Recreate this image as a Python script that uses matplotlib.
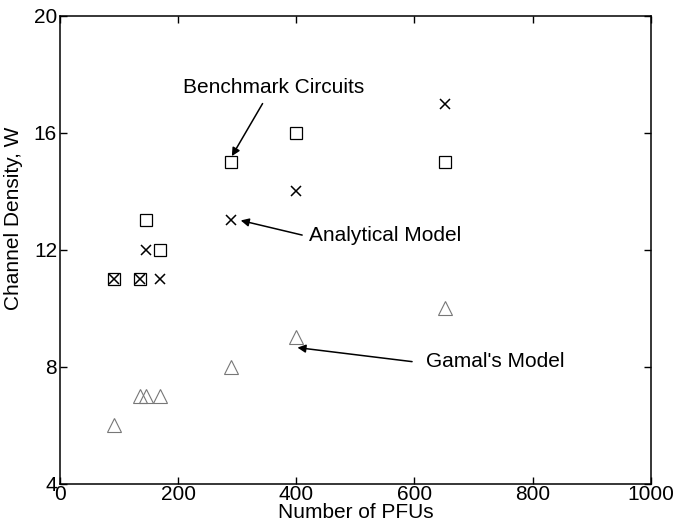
import matplotlib.pyplot as plt

plt.rcParams["font.family"] = ["Liberation Sans", "DejaVu Sans"]

# data
pfus = [92, 135, 145, 170, 290, 400, 652]
benchmark = [11, 11, 13, 12, 15, 16, 15]
analytical = [11, 11, 12, 11, 13, 14, 17]
gamal = [6, 7, 7, 7, 8, 9, 10]

fig = plt.figure(figsize=(6.73, 5.29), dpi=100)
ax = fig.add_axes([0.089, 0.086, 0.878, 0.884])

ax.plot(pfus, benchmark, ls="none", marker="s", ms=8, mfc="none",
        mec="black", mew=0.9)
ax.plot(pfus, analytical, ls="none", marker="x", ms=7.5,
        mec="black", mew=1.1)
ax.plot(pfus, gamal, ls="none", marker="^", ms=10, mfc="none",
        mec="#777777", mew=0.8)

# --- annotations ---
arrow = dict(arrowstyle="-|>", color="black", lw=1.1, mutation_scale=12,
             shrinkA=0, shrinkB=0)
ax.text(361, 17.55, "Benchmark Circuits", fontsize=15, ha="center", va="center")
ax.annotate("", xy=(291, 15.2), xytext=(343, 17.0), arrowprops=arrow)
ax.text(422, 12.5, "Analytical Model", fontsize=15, ha="left", va="center")
ax.annotate("", xy=(306, 13.0), xytext=(410, 12.5), arrowprops=arrow)
ax.text(620, 8.17, "Gamal's Model", fontsize=15, ha="left", va="center")
ax.annotate("", xy=(402, 8.65), xytext=(596, 8.17), arrowprops=arrow)

# --- axes settings ---
ax.set_xlim(0, 1000)
ax.set_ylim(4, 20)
ax.set_xticks([0, 200, 400, 600, 800, 1000])
ax.set_yticks([4, 8, 12, 16, 20])
ax.tick_params(direction="in", length=5, width=1, labelsize=15, pad=2,
               top=True, right=True)
ax.tick_params(axis="x", pad=1)
ax.set_xlabel("Number of PFUs", fontsize=15, labelpad=-1)
ax.set_ylabel("Channel Density, W", fontsize=15)
ax.yaxis.set_label_coords(-0.062, 0.567)
for s in ax.spines.values():
    s.set_linewidth(1.1)

fig.savefig("out.png", dpi=100)
